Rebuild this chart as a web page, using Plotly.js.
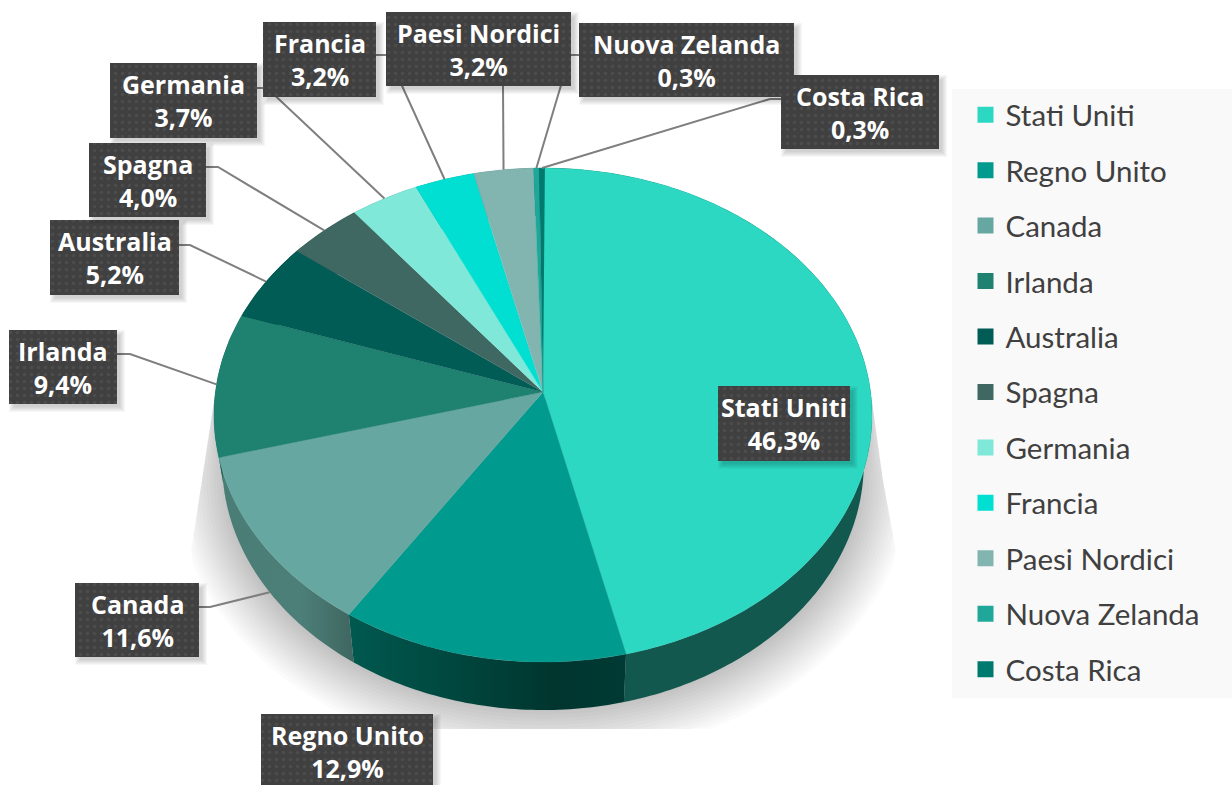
<!DOCTYPE html>
<html><head><meta charset="utf-8">
<script src="https://cdn.plot.ly/plotly-3.0.1.min.js"></script>
<style>html,body{margin:0;padding:0;background:#fff}#chart{width:1232px;height:785px}</style>
</head><body><div id="chart"></div>
<script>
// ---- data ----
const categories = ['Stati Uniti','Regno Unito','Canada','Irlanda','Australia','Spagna','Germania','Francia','Paesi Nordici','Nuova Zelanda','Costa Rica'];
const shares = [46.3,12.9,11.6,9.4,5.2,4.0,3.7,3.2,3.2,0.3,0.3];
// ---- styles ----
const topColors = ['#2dd8c3','#009a8f','#66a8a1','#1f8271','#005c55','#3f6862','#7fe8d8','#00dfd2','#82b5b0','#1fa899','#007a6f'];
const sideGradients = [
  [[0,'#12584e'],[1,'#12584e']],[[0,'#00594f'],[0.75,'#00352e'],[1,'#003a34']],[[0,'#4a7d76'],[0.6,'#4d7f79'],[1,'#3f6660']],[[0,'#14574c'],[1,'#14574c']],
  [[0,'#003d38'],[1,'#003d38']],[[0,'#2a4642'],[1,'#2a4642']],[[0,'#559b90'],[1,'#559b90']],[[0,'#009589'],[1,'#009589']],
  [[0,'#577976'],[1,'#577976']],[[0,'#157066'],[1,'#157066']],[[0,'#00524a'],[1,'#00524a']]];
// ---- layout of the labels: [x0, x1, y0, y1] boxes and leader elbows ----
const boxes = [[718,850,386,461],[261,433,714,790],[75,199,583,657],[9,117,330,404],[50,179,220,295],[89,206,143,217],[110,257,63,138],[263,376,22,97],[386,571,12,86],[579,794,23,97],[781,939,75,149]];
const leaderStarts = [null,null,[[199,607],[210,607]],[[117,354],[130,354]],[[179,245],[190,245]],[[206,167],[218,167]],[[257,88],[267,88]],[[376,55],[388,55]],[[503,86],[503,86]],[[579,55],[570,55]],[[781,99],[770,99]]];
const leaderOnBottomRim = [false,false,true,false,false,false,false,false,false,false,false];
// ---- projection of the tilted disc (pixels) ----
const CX=543, CY=392, R=327.6, B=244.9, K=0.093, DEPTH=48, BOTTOM_SCALE=0.975;
function project(pct, bottom){
  const a=pct/100*2*Math.PI, u=Math.sin(a), v=-Math.cos(a), d=1-K*v;
  let X=R*u/d, Y=CY+B*v/d;
  if(bottom){X*=BOTTOM_SCALE;Y+=DEPTH;}
  return [CX+X,Y];
}
function arc(p0,p1,bottom){
  const n=Math.max(2,Math.ceil((p1-p0)/0.25)), pts=[];
  for(let i=0;i<=n;i++)pts.push(project(p0+(p1-p0)*i/n,bottom));
  return pts;
}
const poly=(pts,extra)=>Object.assign({type:'scatter',x:pts.map(p=>p[0]),y:pts.map(p=>p[1]),fill:'toself',mode:'none',hoverinfo:'skip',showlegend:false},extra);
const rect=b=>[[b[0],b[2]],[b[1],b[2]],[b[1],b[3]],[b[0],b[3]],[b[0],b[2]]];

const traces=[];
// soft shadow
const SH=16;
for(let i=0;i<SH;i++){
  const s=-6+i*52/(SH-1), pts=[];
  for(let a=0;a<=180;a+=3){
    const t=a*Math.PI/180;
    let x=CX+(322+s)*Math.cos(t), y=478+(236+s)*Math.sin(t);
    y=Math.min(y,729);
    const L=214-(y-400)*0.152, Rr=872+(y-420)*0.184;
    x=Math.max(L,Math.min(Rr,x));
    pts.push([x,y]);
  }
  pts.push([214,400],[872,400]);
  traces.push(poly(pts,{fillcolor:'rgba(0,0,0,0.0165)'}));
}
// sides and tops
let cum=0; const starts=shares.map(v=>{const c=cum;cum+=v;return c;});
categories.forEach((c,i)=>{
  const p0=starts[i],p1=p0+shares[i];
  const pts=arc(p0,p1,false).concat(arc(p0,p1,true).reverse());
  traces.push(poly(pts,{fillgradient:{type:'horizontal',colorscale:sideGradients[i]}}));
});
categories.forEach((c,i)=>{
  const p0=starts[i],p1=p0+shares[i];
  const pts=[[CX,CY]].concat(arc(p0,p1,false));
  traces.push(poly(pts,{fillcolor:topColors[i],mode:'lines',line:{color:topColors[i],width:0.4}}));
});
// leaders, then label boxes with shadows
categories.forEach((c,i)=>{
  if(!leaderStarts[i])return;
  const e=project(starts[i]+shares[i]/2,leaderOnBottomRim[i]);
  const pts=leaderStarts[i].concat([e]);
  traces.push({type:'scatter',mode:'lines',x:pts.map(p=>p[0]),y:pts.map(p=>p[1]),line:{color:'#7f7f7f',width:2},hoverinfo:'skip',showlegend:false});
});
categories.forEach((c,i)=>{
  const b=boxes[i];
  for(let k=6;k>=1;k--){
    traces.push(poly(rect([b[0]+6-k,b[1]+2+k,b[2]+6-k,b[3]+2+k]),{fillcolor:'rgba(0,0,0,0.03)'}));
  }
  traces.push(poly(rect(b),{fillcolor:'#404040',fillpattern:{shape:'.',bgcolor:'#404040',fgcolor:'#4c4c4c',size:7,solidity:0.2}}));
});
// legend entries
categories.forEach((c,i)=>{
  traces.push({type:'scatter',mode:'markers',x:[null],y:[null],name:c,legendgroup:c,showlegend:true,hoverinfo:'skip',
    marker:{symbol:'square',size:18,color:topColors[i]}});
});

const annotations=categories.map((c,i)=>{
  const b=boxes[i];
  return {x:(b[0]+b[1])/2,y:(Math.min(b[3],b[2]+75)+b[2])/2,xref:'x',yref:'y',xanchor:'center',yanchor:'middle',showarrow:false,
    text:c+'<br>'+shares[i].toFixed(1).replace('.',',')+'%',
    font:{family:'"Open Sans", sans-serif',size:25,color:'#ffffff',weight:700}};
});

const layout={
  width:1232,height:785,margin:{l:0,r:0,t:0,b:0},paper_bgcolor:'#ffffff',plot_bgcolor:'#ffffff',
  xaxis:{range:[0,1232],visible:false,fixedrange:true},
  yaxis:{range:[785,0],visible:false,fixedrange:true},
  shapes:[{type:'rect',layer:'below',xref:'x',yref:'y',x0:952,x1:1232,y0:89,y1:698,fillcolor:'#f9f9f9',line:{width:0}}],
  annotations,
  showlegend:true,
  legend:{x:965.5/1232,y:1-89/785,xanchor:'left',yanchor:'top',bgcolor:'rgba(0,0,0,0)',traceorder:'grouped',tracegroupgap:14.1,
    font:{family:'Lato, sans-serif',size:29.5,color:'#404040'},itemclick:false,itemdoubleclick:false}
};
Plotly.newPlot('chart',traces,layout,{displayModeBar:false,staticPlot:true});
</script></body></html>
